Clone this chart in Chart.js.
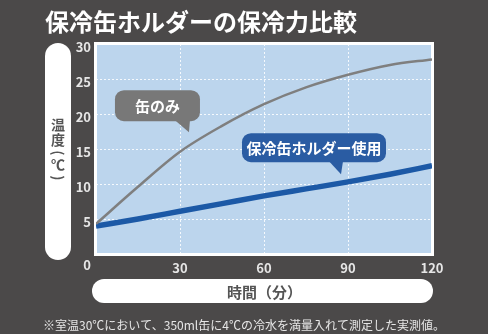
<!DOCTYPE html>
<html lang="ja">
<head>
<meta charset="utf-8">
<title>保冷缶ホルダーの保冷力比較</title>
<script src="https://cdn.jsdelivr.net/npm/chart.js@4/dist/chart.umd.min.js"></script>
<style>
  html, body { margin: 0; padding: 0; background: #4b4949; }
  #wrap { width: 488px; height: 334px; }
  canvas { display: block; }
</style>
</head>
<body>
<div id="wrap"><canvas id="chart" width="488" height="334"></canvas></div>
<script>
// Elapsed time (minutes) and measured water temperature (℃)
const minutes    = [0, 15, 30, 45, 60, 75, 90, 105, 120];
const canOnly    = [4.3, 9.6, 14.6, 18.3, 21.4, 23.8, 25.6, 27.0, 27.8];
const withHolder = [4.0, 5.0, 6.1, 7.2, 8.3, 9.3, 10.3, 11.4, 12.6];

const xTicks = [0, 30, 60, 90, 120];
const yTicks = [0, 5, 10, 15, 20, 25, 30];

const seriesNames = ['缶のみ', '保冷缶ホルダー使用'];
const chartTitle  = '保冷缶ホルダーの保冷力比較';
const xTitle      = '時間（分）';
// vertical axis title, written top to bottom; brackets are turned sideways
const yTitleChars = [
  { ch: '温', y: 125, rot: false },
  { ch: '度', y: 140, rot: false },
  { ch: '(',  y: 153, rot: true },
  { ch: '℃', y: 165, rot: false },
  { ch: ')',  y: 178, rot: true }
];
const footnote    = '※室温30℃において、350ml缶に4℃の冷水を満量入れて測定した実測値。';

// Callout bubbles, anchored (tail tip) at a point in data units
const callouts = [
  { text: seriesNames[0], at: { x: 33.2, y: 17.4 }, fill: '#787878',
    box: { l: -74, r: 11, t: -42, b: -11 }, tail: { l: -14, r: 1 } },
  { text: seriesNames[1], at: { x: 87.5, y: 11.4 }, fill: '#2a5ca3',
    box: { l: -99, r: 45, t: -41, b: -12 }, tail: { l: -12, r: 2 } }
];

const FONT = '"Noto Sans CJK JP", "Noto Sans", sans-serif';

function roundRect(ctx, x, y, w, h, r) {
  ctx.beginPath();
  ctx.moveTo(x + r, y);
  ctx.lineTo(x + w - r, y);
  ctx.arcTo(x + w, y, x + w, y + r, r);
  ctx.lineTo(x + w, y + h - r);
  ctx.arcTo(x + w, y + h, x + w - r, y + h, r);
  ctx.lineTo(x + r, y + h);
  ctx.arcTo(x, y + h, x, y + h - r, r);
  ctx.lineTo(x, y + r);
  ctx.arcTo(x, y, x + r, y, r);
  ctx.closePath();
}

const decor = {
  id: 'decor',
  beforeDraw(chart) {
    const { ctx, chartArea: a } = chart;
    ctx.save();
    ctx.fillStyle = '#4b4949';
    ctx.fillRect(0, 0, chart.width, chart.height);
    // plot background
    ctx.fillStyle = '#bcd5ed';
    ctx.fillRect(a.left, a.top, a.right - a.left, a.bottom - a.top);
    // heading
    ctx.fillStyle = '#ffffff';
    ctx.font = 'bold 24px ' + FONT;
    ctx.textAlign = 'left';
    ctx.textBaseline = 'middle';
    ctx.fillText(chartTitle, 45, 22);
    ctx.restore();
  },
  beforeDatasetsDraw(chart) {
    const { ctx, chartArea: a } = chart;
    ctx.save();
    ctx.strokeStyle = '#ffffff';
    ctx.lineWidth = 3;
    ctx.strokeRect(a.left - 0.5, a.top - 0.5, a.right - a.left + 1, a.bottom - a.top + 1);
    ctx.restore();
  },
  afterDatasetsDraw(chart) {
    const { ctx, scales } = chart;
    ctx.save();
    callouts.forEach(c => {
      const px = scales.x.getPixelForValue(c.at.x);
      const py = scales.y.getPixelForValue(c.at.y);
      ctx.fillStyle = c.fill;
      roundRect(ctx, px + c.box.l, py + c.box.t, c.box.r - c.box.l, c.box.b - c.box.t, 9);
      ctx.fill();
      ctx.beginPath();
      ctx.moveTo(px + c.tail.l, py + c.box.b - 1);
      ctx.lineTo(px + c.tail.r, py + c.box.b - 1);
      ctx.lineTo(px, py);
      ctx.closePath();
      ctx.fill();
      ctx.fillStyle = '#ffffff';
      ctx.font = 'bold 15px ' + FONT;
      ctx.textAlign = 'center';
      ctx.textBaseline = 'middle';
      ctx.fillText(c.text, px + (c.box.l + c.box.r) / 2, py + (c.box.t + c.box.b) / 2 + 1);
    });
    ctx.restore();
  },
  afterDraw(chart) {
    const { ctx, chartArea: a } = chart;
    ctx.save();
    ctx.fillStyle = '#ffffff';
    // y-axis title pill with upright stacked characters
    const yl = a.left - 51, yw = 26, yt = a.top - 1, yb = a.bottom + 6;
    roundRect(ctx, yl, yt, yw, yb - yt, 13);
    ctx.fill();
    ctx.fillStyle = '#555555';
    ctx.textAlign = 'center';
    ctx.textBaseline = 'middle';
    yTitleChars.forEach(c => {
      const cx = yl + yw / 2;
      ctx.font = 'bold 14px ' + FONT;
      if (c.rot) {
        ctx.save();
        ctx.translate(cx, c.y);
        ctx.rotate(Math.PI / 2);
        ctx.fillText(c.ch, 0, 0);
        ctx.restore();
      } else {
        ctx.fillText(c.ch, cx, c.y);
      }
    });
    // x-axis title pill
    ctx.fillStyle = '#ffffff';
    const xl = a.left - 4, xr = a.right + 1, xt = 279, xh = 24;
    roundRect(ctx, xl, xt, xr - xl, xh, 12);
    ctx.fill();
    ctx.fillStyle = '#555555';
    ctx.font = 'bold 15px ' + FONT;
    ctx.textAlign = 'center';
    ctx.fillText(xTitle, (xl + xr) / 2 + 2, xt + xh / 2 + 1);
    // footnote
    ctx.fillStyle = '#e6e6e6';
    ctx.font = '12px ' + FONT;
    ctx.textAlign = 'left';
    ctx.fillText(footnote, 43, 325);
    ctx.restore();
  }
};

const toPoints = vals => minutes.map((m, i) => ({ x: m, y: vals[i] }));

new Chart(document.getElementById('chart'), {
  type: 'line',
  data: {
    datasets: [
      {
        label: seriesNames[0],
        data: toPoints(canOnly),
        borderColor: '#7f7f7f',
        borderWidth: 2.5,
        pointRadius: 0,
        cubicInterpolationMode: 'monotone',
        fill: false
      },
      {
        label: seriesNames[1],
        data: toPoints(withHolder),
        borderColor: '#1c59a6',
        borderWidth: 5.5,
        pointRadius: 0,
        cubicInterpolationMode: 'monotone',
        fill: false
      }
    ]
  },
  options: {
    responsive: false,
    animation: false,
    devicePixelRatio: 1,
    layout: { padding: { left: 0, right: 56, top: 44, bottom: 0 } },
    plugins: {
      legend: { display: false },
      title: { display: false },
      tooltip: { enabled: false }
    },
    scales: {
      x: {
        type: 'linear',
        min: xTicks[0],
        max: xTicks[xTicks.length - 1],
        afterBuildTicks: s => { s.ticks = xTicks.map(v => ({ value: v })); },
        afterFit: s => { s.height = 80; },
        grid: { color: 'rgba(255,255,255,0.85)', lineWidth: 1, drawTicks: false },
        border: { display: false, dash: [2, 2] },
        ticks: {
          color: '#e6e6e6',
          font: { family: FONT, size: 13, weight: 'bold' },
          padding: 6,
          maxRotation: 0,
          callback: v => (v === 0 ? '' : String(v))
        }
      },
      y: {
        min: yTicks[0],
        max: yTicks[yTicks.length - 1],
        afterBuildTicks: s => { s.ticks = yTicks.map(v => ({ value: v })); },
        afterFit: s => { s.width = 96; },
        grid: { color: 'rgba(255,255,255,0.85)', lineWidth: 1, drawTicks: false },
        border: { display: false, dash: [2, 2] },
        ticks: {
          color: '#e6e6e6',
          font: { family: FONT, size: 13, weight: 'bold' },
          padding: 5,
          labelOffset: 3,
          // the shared origin label sits below the corner
          callback: v => (v === 0 ? ['', '0'] : String(v))
        }
      }
    }
  },
  plugins: [decor]
});
</script>
</body>
</html>
